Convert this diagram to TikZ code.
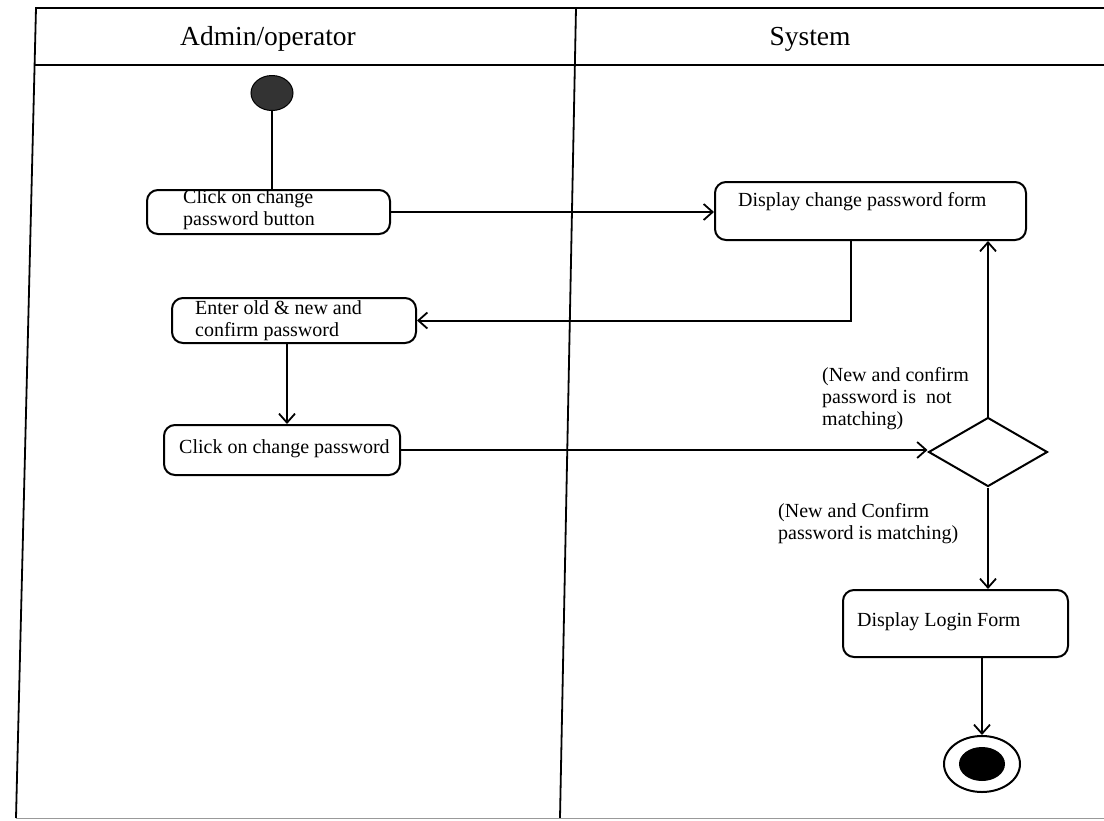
\documentclass[tikz,border=0pt]{standalone}
\usepackage{fontspec}
\setmainfont{Liberation Serif}
\usetikzlibrary{arrows.meta,shapes.geometric}
\begin{document}
\begin{tikzpicture}[x=1pt,y=-1pt,
  lane/.style={line width=1.8pt},
  act/.style={draw,line width=2pt,rounded corners=11pt,inner sep=0pt},
  txt/.style={inner sep=0pt,anchor=west,align=left,font=\fontsize{20}{22}\selectfont},
  head/.style={inner sep=0pt,font=\fontsize{27.5}{29}\selectfont},
  flow/.style={line width=2pt},
  arr/.style={flow,-{Straight Barb[length=9pt,width=16pt,line width=1.8pt]}}
]
\useasboundingbox (0,0) rectangle (1104,820);
\fill[white] (0,0) rectangle (1104,820);
% swimlane frame
\draw[line width=2.6pt] (35,8) -- (1104,8);
\draw[line width=2.6pt] (34,65) -- (1104,65);
\draw[lane] (36,8) -- (16,818);
\draw[lane] (576,8) -- (560,818);
\draw[line width=1pt,black!40] (16,818) -- (1104,818);
\node[head] (h1) at (268,39) {Admin/operator};
\node[head] (h2) at (810,39) {System};
% nodes
\node[ellipse,fill=black!80,draw=black,line width=1pt,minimum width=42pt,minimum height=35pt,inner sep=0pt] (start) at (272,93) {};
\node[act,minimum width=243pt,minimum height=44pt] (b1) at (268.5,212) {};
\node[txt] (t1) at (183,210) {Click on change\\password button};
\node[act,minimum width=311pt,minimum height=58pt] (b2) at (870.5,211) {};
\node[txt] (t2) at (738,202) {Display change password form};
\node[act,minimum width=244pt,minimum height=45pt] (b3) at (294,320.5) {};
\node[txt] (t3) at (195,321) {Enter old \& new and\\confirm password};
\node[act,minimum width=236pt,minimum height=50pt] (b4) at (282,450) {};
\node[txt] (t4) at (179,449) {Click on change password};
\node[diamond,draw,line width=2pt,minimum width=119pt,minimum height=69pt,inner sep=0pt] (d) at (988,452) {};
\node[txt] (l1) at (822,399) {(New and confirm\\password is\ \ not\\matching)};
\node[txt] (l2) at (778,524) {(New and Confirm\\password is matching)};
\node[act,minimum width=225pt,minimum height=67pt] (b5) at (955.5,623.5) {};
\node[txt] (t5) at (857,622) {Display Login Form};
\node[ellipse,draw,line width=2pt,minimum width=76pt,minimum height=56pt,inner sep=0pt] (end) at (982,764) {};
\fill (end.center) ellipse (23 and 17);
% connectors
\draw[flow] (start.south) -- (start.south |- b1.north);
\draw[arr] (b1.east) -- (b1.east -| b2.west);
\draw[arr] ([xshift=-20pt]b2.south) |- (b3.east);
\draw[arr] ([xshift=-7pt]b3.south) -- ([xshift=-7pt]b3.south |- b4.north);
\draw[arr] (b4.east) -- (b4.east -| d.west);
\draw[arr] (d.north) -- (d.north |- b2.south);
\draw[arr] (d.south) -- (d.south |- b5.north);
\draw[arr] (end.north |- b5.south) -- (end.north);
\end{tikzpicture}
\end{document}
